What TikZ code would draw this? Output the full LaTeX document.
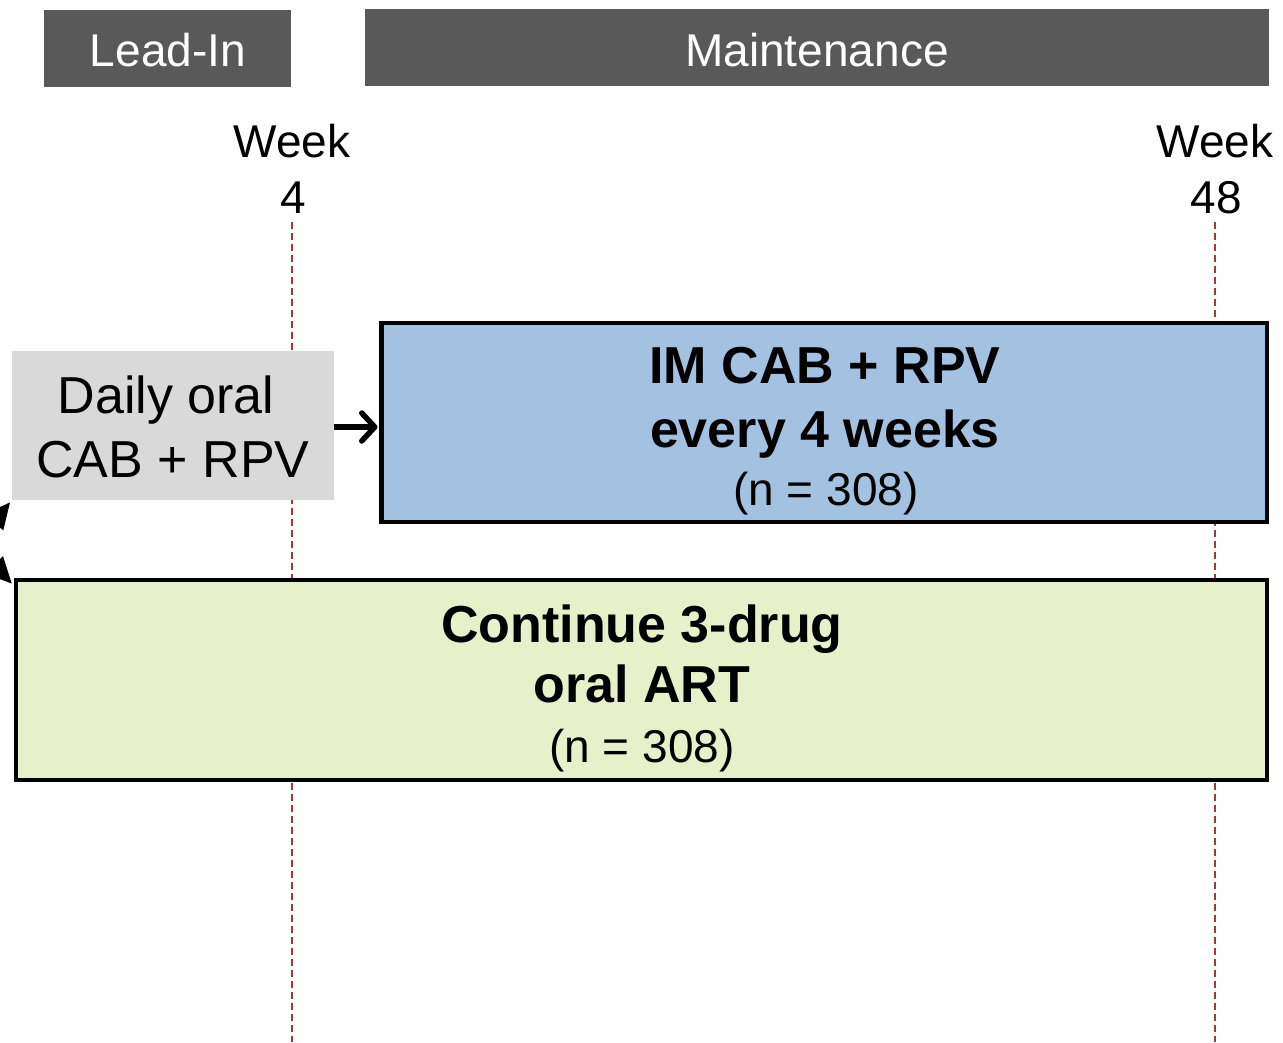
\documentclass[tikz,border=0pt]{standalone}
\usepackage{fontspec}
\setmainfont{Liberation Sans}
\usetikzlibrary{arrows.meta}
\definecolor{hdrgray}{HTML}{595959}
\definecolor{leadgray}{HTML}{D9D9D9}
\definecolor{imblue}{HTML}{A3C1E0}
\definecolor{artgreen}{HTML}{E6F0C9}
\definecolor{guidered}{HTML}{A0393B}
\begin{document}
\begin{tikzpicture}[x=1pt,y=-1pt,
  hdrbox/.style={fill=hdrgray,draw=none,inner sep=0pt,outer sep=0pt},
  hdrtxt/.style={text=white,font=\fontsize{46}{52}\selectfont,anchor=base,inner sep=0pt},
  weektxt/.style={font=\fontsize{46}{52}\selectfont,anchor=base,inner sep=0pt},
  armbox/.style={draw=black,line width=4.5pt,inner sep=0pt,outer sep=0pt},
  boldtxt/.style={font=\bfseries\fontsize{52}{60}\selectfont,anchor=base,inner sep=0pt},
  normtxt/.style={font=\fontsize{46}{52}\selectfont,anchor=base,inner sep=0pt},
  leadtxt/.style={font=\fontsize{52}{60}\selectfont,anchor=base,inner sep=0pt},
  guide/.style={draw=guidered,line width=2pt,dash pattern=on 7pt off 4pt},
  flow/.style={line width=5.5pt,-{Straight Barb[round,length=13pt,width=28pt]}},
  randarrow/.style={line width=4pt,-{Triangle[length=26pt,width=24pt]}}
]
\useasboundingbox (0,0) rectangle (1283,1042);
\clip (0,0) rectangle (1283,1042);

% guide lines
\coordinate (g4top) at (292,222);
\coordinate (g4bot) at (292,1042);
\coordinate (g48top) at (1215,222);
\coordinate (g48bot) at (1215,1042);
\draw[guide] (g4top) -- (g4bot);
\draw[guide] (g48top) -- (g48bot);

% header bars
\node[hdrbox,minimum width=247pt,minimum height=77pt] (leadin) at (167.5,48.5) {};
\node[hdrtxt] (leadintxt) at (168,66) {Lead-In};
\node[hdrbox,minimum width=904pt,minimum height=77pt] (maint) at (817,47.5) {};
\node[hdrtxt] (mainttxt) at (817,66) {Maintenance};

% week labels
\node[weektxt] (wk4a) at (292,157) {Week};
\node[weektxt] (wk4b) at (293,213) {4};
\node[weektxt] (wk48a) at (1215,157) {Week};
\node[weektxt] (wk48b) at (1216,213) {48};

% lead-in box
\node[fill=leadgray,inner sep=0pt,outer sep=0pt,minimum width=322pt,minimum height=149pt] (lead) at (173,425.5) {};
\node[leadtxt] (leadl1) at (166,413) {Daily oral};
\node[leadtxt] (leadl2) at (173,477) {CAB + RPV};

% IM arm
\node[armbox,fill=imblue,minimum width=885.5pt,minimum height=199pt] (im) at (824.25,422.5) {};
\node[boldtxt] (iml1) at (825,383) {IM CAB + RPV};
\node[boldtxt] (iml2) at (825,447) {every 4 weeks};
\node[normtxt] (iml3) at (826,505) {(n = 308)};

% oral ART arm
\node[armbox,fill=artgreen,minimum width=1251pt,minimum height=200pt] (art) at (641.5,680) {};
\node[boldtxt] (artl1) at (642,642) {Continue 3-drug};
\node[boldtxt] (artl2) at (642,702) {oral ART};
\node[normtxt] (artl3) at (642,762) {(n = 308)};

% arrows
\draw[flow,shorten >=4pt] (lead.east |- 0,427) -- (im.west |- 0,427);
\coordinate (rand) at (-25,545);
\draw[randarrow,shorten >=3pt] (rand) -- (lead.south west);
\draw[randarrow,shorten >=6pt] (rand) -- ([yshift=-8pt]art.north west);
\end{tikzpicture}
\end{document}
